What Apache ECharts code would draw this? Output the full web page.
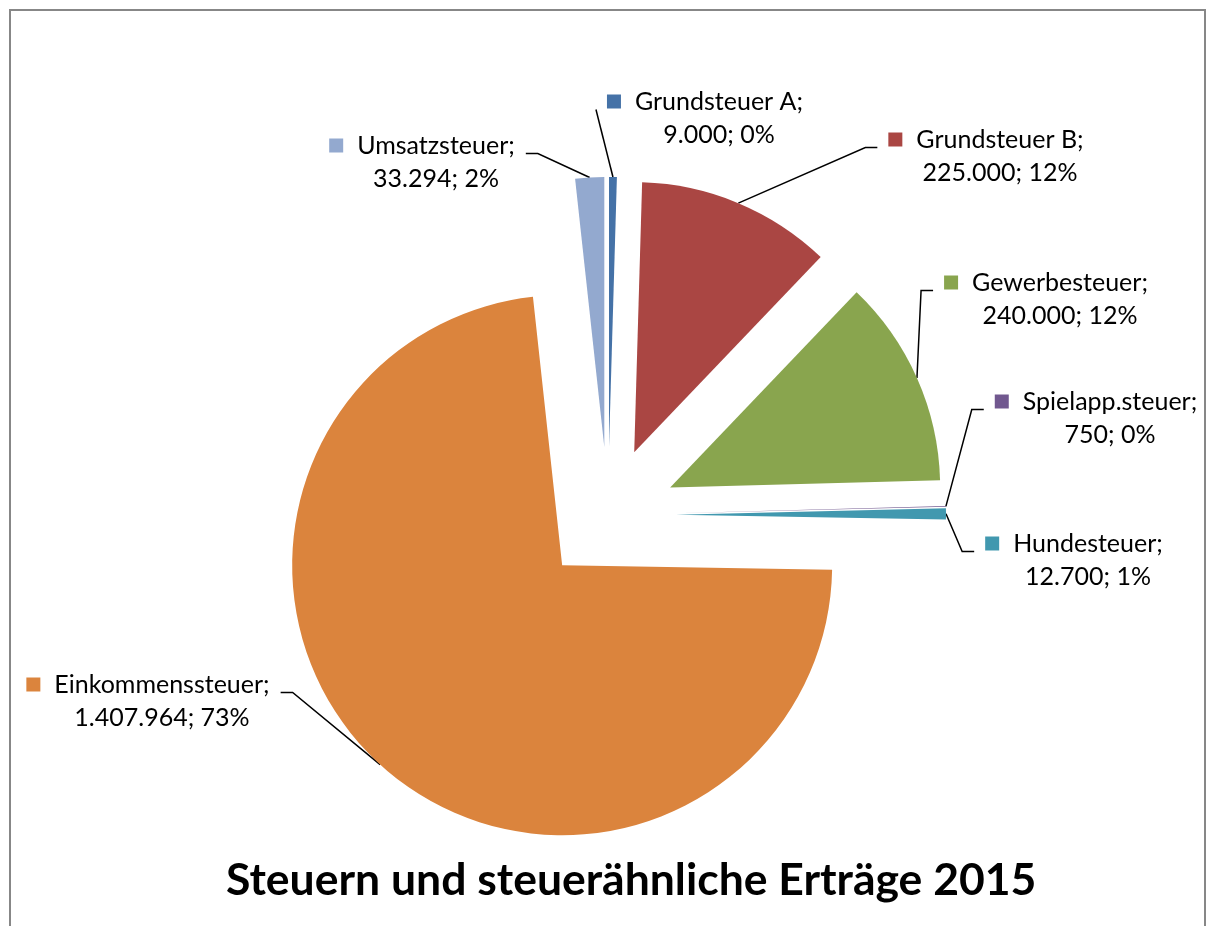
<!DOCTYPE html>
<html>
<head>
<meta charset="utf-8">
<title>Steuern und steuerähnliche Erträge 2015</title>
<script src="https://cdn.jsdelivr.net/npm/echarts@6/dist/echarts.min.js"></script>
<style>
	html, body { margin: 0; padding: 0; background: #fff; }
	#chart { width: 1206px; height: 926px; }
</style>
</head>
<body>
<div id="chart"></div>
<script>
var names = ['Grundsteuer A', 'Grundsteuer B', 'Gewerbesteuer', 'Spielapp.steuer', 'Hundesteuer', 'Einkommenssteuer', 'Umsatzsteuer'];
var values = [9000, 225000, 240000, 750, 12700, 1407964, 33294];
var colors = ['#4572A7', '#AA4643', '#89A54E', '#71588F', '#4198AF', '#DB843D', '#93A9CF'];
var chartTitle = 'Steuern und steuerähnliche Erträge 2015';

// centre of each label text (hand placed like in the Excel sheet)
var labelPos = [[705, 118], [986, 156], [1046, 299], [1096, 418], [1074, 560], [148, 701], [422, 162]];

var FONT = 'Lato, "Open Sans", sans-serif';
var CX = 608, CY = 515, R = 270, EXPLODE = 68;
// extra room above the text, so the leader line meets the first line
var PAD_TOP = 17;

var total = values.reduce( function(a, b){ return a + b; }, 0 );

// 1407964 -> 1.407.964
var fmtNum = function(v){
	return String( v ).replace( /\B(?=(\d{3})+(?!\d))/g, '.' );
};

// mid angle of every slice (clockwise from 12 o'clock), used to push the slices out
var midAngles = [];
var acc = 0;
values.forEach( function(v){
	midAngles.push( (acc + v / 2) / total * Math.PI * 2 );
	acc += v;
} );

var rich = {
	txt: { fontSize: 25, lineHeight: 33, color: '#000', fontFamily: FONT, verticalAlign: 'middle' },
	gap: { width: 14, height: 14 },
	sp: { width: 28, height: 14 }
};
colors.forEach( function(c, i){
	rich['k' + i] = { width: 14, height: 14, backgroundColor: c, verticalAlign: 'middle' };
} );

// exploded pie: one pie per slice, each shifted along its own mid angle,
// the other slices of that pie stay invisible
var makeSeries = function(k){
	return {
		type: 'pie',
		silent: true,
		center: [CX + EXPLODE * Math.sin( midAngles[k] ), CY - EXPLODE * Math.cos( midAngles[k] )],
		radius: R,
		startAngle: 90,
		clockwise: true,
		avoidLabelOverlap: false,
		data: names.map( function(n, i){
			var own = i === k;
			return {
				name: n,
				value: values[i],
				itemStyle: own ? { color: colors[i] } : { color: 'transparent' },
				label: { show: own },
				labelLine: { show: own }
			};
		} ),
		itemStyle: { borderWidth: 0 },
		emphasis: { disabled: true },
		label: {
			position: 'outside',
			padding: [PAD_TOP, 11, 0, 11],
			// invisible box so the padding counts for the leader line
			backgroundColor: 'rgba(255,255,255,0)',
			formatter: function(p){
				var pct = Math.round( p.value / total * 100 );
				return '{k' + p.dataIndex + '|}{gap|}{txt|' + p.name + ';}\n{sp|}{txt|' + fmtNum( p.value ) + '; ' + pct + '%}';
			},
			rich: rich
		},
		labelLine: {
			length: 20,
			length2: 12,
			lineStyle: { color: '#000', width: 1.5 }
		},
		labelLayout: function(params){
			var pos = labelPos[params.dataIndex];
			return { x: pos[0], y: pos[1] - PAD_TOP / 2, align: 'center', verticalAlign: 'middle' };
		}
	};
};

var chart = echarts.init( document.getElementById( 'chart' ) );

chart.setOption( {
	animation: false,
	title: {
		text: chartTitle,
		left: 226,
		top: 858,
		padding: 0,
		textStyle: {
			fontFamily: FONT,
			fontSize: 44.5,
			fontWeight: 'bold',
			color: '#000'
		}
	},
	graphic: [
		{
			type: 'rect',
			silent: true,
			shape: { x: 10, y: 10, width: 1195, height: 1000 },
			style: { fill: 'none', stroke: '#878787', lineWidth: 2 }
		}
	],
	series: names.map( function(n, k){ return makeSeries( k ); } )
} );
</script>
</body>
</html>
